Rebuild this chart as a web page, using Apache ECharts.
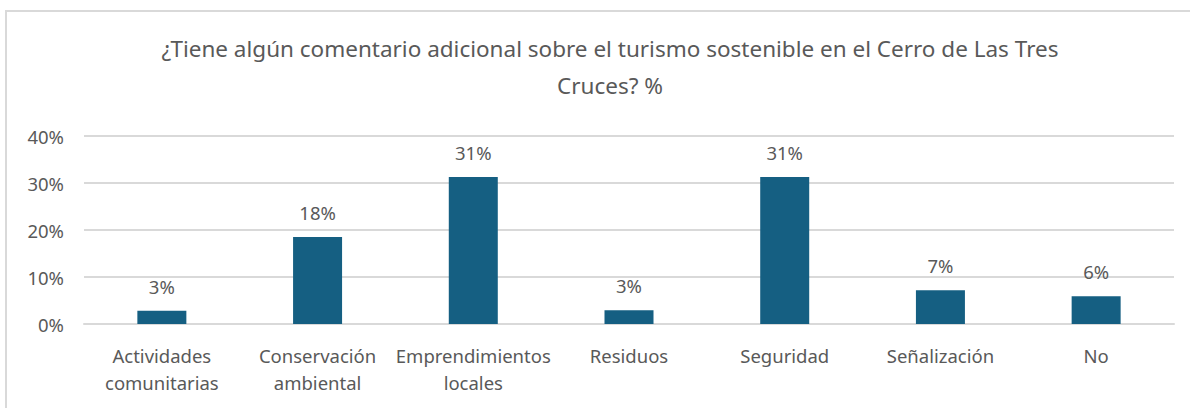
<!DOCTYPE html>
<html>
<head>
<meta charset="utf-8">
<script src="https://cdn.jsdelivr.net/npm/echarts@6/dist/echarts.min.js"></script>
<style>
  html, body { margin: 0; padding: 0; background: #fff; }
  #chart { position: absolute; left: 5px; top: 10px; width: 1190px; height: 420px;
           border: 2px solid #d9d9d9; box-sizing: border-box; }
</style>
</head>
<body>
<div id="chart"></div>
<script>
// categories and values (percent)
const categories = ['Actividades\ncomunitarias', 'Conservación\nambiental', 'Emprendimientos\nlocales',
  'Residuos', 'Seguridad', 'Señalización', 'No'];
const values = [2.8, 18.5, 31.3, 2.9, 31.3, 7.2, 5.9];
const valueLabels = ['3%', '18%', '31%', '3%', '31%', '7%', '6%'];

const chart = echarts.init(document.getElementById('chart'), null, { renderer: 'svg' });
const font = '"Noto Sans", sans-serif';

chart.setOption({
  animation: false,
  title: {
    text: '¿Tiene algún comentario adicional sobre el turismo sostenible en el Cerro de Las Tres\nCruces? %',
    left: 598, top: 13, textAlign: 'center',
    textStyle: { fontFamily: font, fontSize: 22.5, fontWeight: 'normal', color: '#595959', lineHeight: 37 }
  },
  grid: { left: 77, right: 19, top: 124, bottom: 104 },
  xAxis: {
    type: 'category',
    data: categories,
    axisLine: { lineStyle: { color: '#d9d9d9', width: 2 } },
    axisTick: { show: false },
    axisLabel: { fontFamily: font, fontSize: 18.5, color: '#595959', margin: 18, lineHeight: 27, interval: 0 }
  },
  yAxis: {
    type: 'value', min: 0, max: 40, interval: 10,
    axisLabel: { formatter: '{value}%', fontFamily: font, fontSize: 18.5, color: '#595959', margin: 20 },
    splitLine: { lineStyle: { color: '#d9d9d9', width: 2 } }
  },
  series: [{
    type: 'bar',
    data: values,
    barWidth: 49,
    itemStyle: { color: '#155f82' },
    label: {
      show: true, position: 'top', distance: 15,
      fontFamily: font, fontSize: 18.5, color: '#595959',
      formatter: p => valueLabels[p.dataIndex]
    }
  }]
});
</script>
</body>
</html>
